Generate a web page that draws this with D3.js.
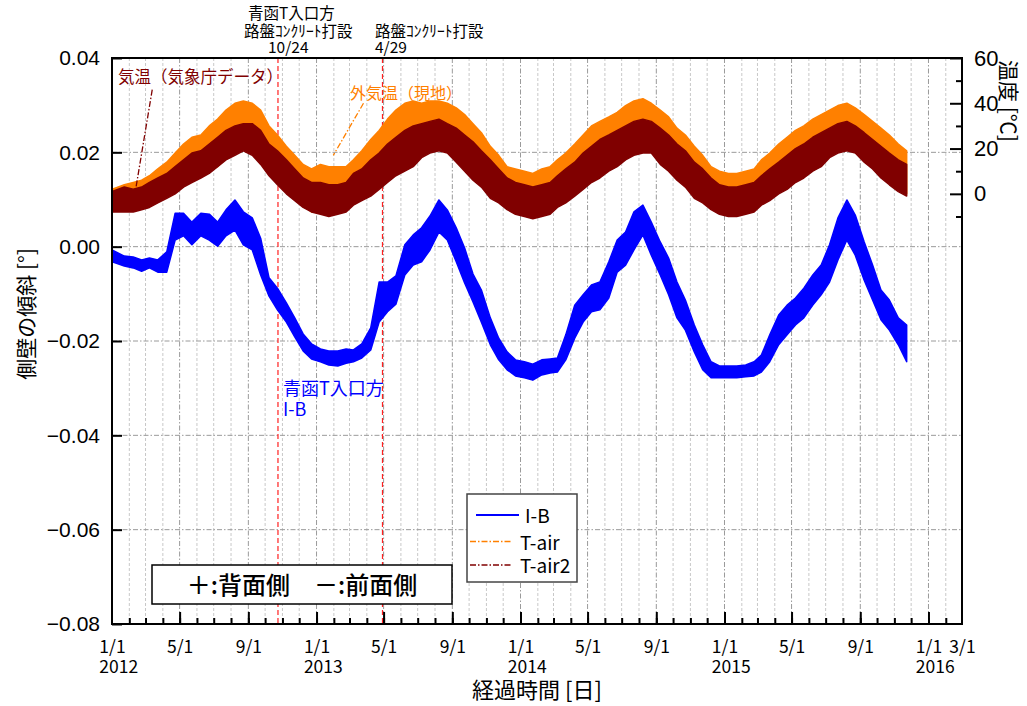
<!DOCTYPE html>
<html><head><meta charset="utf-8">
<script src="https://cdn.jsdelivr.net/npm/d3@7"></script>
<style>
html,body{margin:0;padding:0;background:#fff;}
svg{display:block;}
</style></head><body>
<svg id="chart" width="1027" height="706"></svg>
<script>
// ---------------- data ----------------
// One record per half month (the 1st and the 16th of each month, starting 2012-01-01):
// upper and lower extent of the scattered readings around the middle of that half month.
const seriesStart = Date.UTC(2012, 0, 1);

// I-B side-wall tilt [deg]
const ibHigh = [
  -0.0007,-0.0020,-0.0022,-0.0028,-0.0024,-0.0028,-0.0011,0.0071,0.0071,0.0052,0.0071,0.0069,
  0.0052,0.0078,0.0099,0.0074,0.0061,0.0018,-0.0066,-0.0088,-0.0119,-0.0151,-0.0185,-0.0206,
  -0.0217,-0.0221,-0.0221,-0.0217,-0.0219,-0.0206,-0.0172,-0.0075,-0.0075,-0.0062,0.0004,0.0025,
  0.0040,0.0065,0.0099,0.0078,0.0040,-0.0003,-0.0058,-0.0092,-0.0151,-0.0194,-0.0223,-0.0240,
  -0.0244,-0.0249,-0.0240,-0.0238,-0.0236,-0.0187,-0.0124,-0.0102,-0.0081,-0.0075,-0.0032,0.0014,
  0.0031,0.0074,0.0088,0.0052,0.0010,-0.0024,-0.0075,-0.0113,-0.0166,-0.0208,-0.0244,-0.0253,
  -0.0253,-0.0253,-0.0251,-0.0244,-0.0230,-0.0187,-0.0145,-0.0124,-0.0109,-0.0088,-0.0060,-0.0039,
  0.0004,0.0061,0.0099,0.0067,0.0010,-0.0039,-0.0092,-0.0113,-0.0151,-0.0166
];
const ibLow = [
  -0.0032,-0.0041,-0.0045,-0.0052,-0.0045,-0.0054,-0.0054,0.0014,0.0023,0.0004,0.0023,0.0014,
  0.0001,0.0023,0.0035,0.0004,-0.0007,-0.0060,-0.0105,-0.0134,-0.0160,-0.0191,-0.0221,-0.0238,
  -0.0244,-0.0251,-0.0253,-0.0247,-0.0244,-0.0236,-0.0219,-0.0160,-0.0138,-0.0122,-0.0060,-0.0039,
  -0.0032,-0.0007,0.0031,0.0014,-0.0032,-0.0077,-0.0117,-0.0160,-0.0208,-0.0240,-0.0261,-0.0274,
  -0.0278,-0.0283,-0.0272,-0.0268,-0.0266,-0.0240,-0.0194,-0.0160,-0.0138,-0.0134,-0.0109,-0.0054,
  -0.0039,-0.0007,0.0025,-0.0018,-0.0060,-0.0102,-0.0151,-0.0177,-0.0223,-0.0261,-0.0278,-0.0278,
  -0.0278,-0.0278,-0.0276,-0.0274,-0.0266,-0.0244,-0.0208,-0.0187,-0.0166,-0.0151,-0.0124,-0.0102,
  -0.0075,-0.0028,0.0014,-0.0018,-0.0071,-0.0113,-0.0155,-0.0177,-0.0208,-0.0244
];

// T-air: air temperature at the site [°C]
const tairHigh = [
  2,4,5,6,8,11,14,18,22,25,26,30,33,37,40,41,40,37,30,26,21,17,13,11,
  13,12,12,12,15,19,24,28,33,37,40,41,40,41,41,40,38,35,31,27,21,17,12,11,
  10,9,11,12,15,18,22,26,30,32,34,36,39,41,42,40,37,34,29,26,21,17,12,10,
  9,9,10,11,15,18,22,25,28,30,33,35,37,39,40,38,35,32,29,26,22,19
];
const tairLow = [
  -6,-7,-6,-5,-4,-2,-1,2,4,6,8,10,12,16,18,20,18,14,9,5,1,-2,-5,-8,
  -8,-9,-8,-7,-4,-2,0,3,7,9,11,13,17,19,20,19,15,11,7,4,-1,-3,-6,-8,
  -9,-10,-9,-8,-5,-3,0,3,6,8,11,13,16,18,19,19,14,11,7,4,-1,-3,-6,-8,
  -9,-9,-8,-7,-4,-2,1,3,6,8,11,13,17,19,20,19,15,12,8,5,2,0
];

// T-air2: air temperature from the meteorological agency [°C]
const tair2High = [
  1,3,2,3,5,7,9,12,15,18,19,22,25,28,30,31,31,28,22,19,15,11,7,5,
  5,4,4,5,9,11,15,18,22,25,28,30,31,32,33,31,29,26,23,19,15,11,7,5,
  4,3,4,5,8,11,14,18,21,24,26,28,30,32,33,32,29,26,22,19,14,11,7,4,
  3,3,4,5,8,11,14,17,20,22,25,27,29,31,32,30,27,24,21,18,15,13
];
const tair2Low = [
  -8,-8,-8,-7,-6,-4,-2,0,3,5,7,9,12,15,17,19,17,13,8,4,0,-3,-6,-8,
  -9,-10,-9,-8,-5,-3,-1,2,5,8,10,12,16,18,19,18,14,10,6,3,-2,-4,-7,-9,
  -10,-11,-10,-9,-6,-4,-1,2,5,7,10,12,15,17,18,18,13,10,6,3,-2,-4,-7,-9,
  -10,-10,-9,-8,-5,-3,0,2,5,7,10,12,16,18,19,18,14,11,7,4,1,-1
];

const tiltTicks = [0.04, 0.02, 0.00, -0.02, -0.04, -0.06, -0.08];
const tempTicks = [60, 40, 20, 0];
const tempMinorTicks = [50, 30, 10, -10];
const labelDates = ["2012-01-01","2012-05-01","2012-09-01","2013-01-01","2013-05-01","2013-09-01",
                    "2014-01-01","2014-05-01","2014-09-01","2015-01-01","2015-05-01","2015-09-01",
                    "2016-01-01","2016-03-01"];
const eventDates = ["2012-10-24", "2013-04-29"];

// ---------------- layout ----------------
const P = {left: 112, right: 962, top: 58, bottom: 624};
const svg = d3.select("#chart");
const JP = "'Noto Sans CJK JP', sans-serif";
const LAT = "'Liberation Sans', Arial, sans-serif";

const x = d3.scaleUtc()
  .domain([new Date(seriesStart), new Date(Date.UTC(2016, 2, 1))])
  .range([P.left, P.right]);
const yTilt = d3.scaleLinear().domain([-0.08, 0.04]).range([P.bottom, P.top]);
const yTemp = d3.scaleLinear().domain([-190, 60]).range([P.bottom, P.top]);

const parse = s => new Date(s + "T00:00:00Z");

svg.append("defs").append("clipPath").attr("id", "plotClip")
  .append("rect").attr("x", P.left).attr("y", P.top)
  .attr("width", P.right - P.left).attr("height", P.bottom - P.top);

// ---------------- grid ----------------
const months = d3.utcMonth.range(d3.utcMonth.offset(x.domain()[0], 1), x.domain()[1]);
const grid = svg.append("g");
grid.selectAll("line.v").data(months).join("line")
  .attr("x1", d => x(d)).attr("x2", d => x(d))
  .attr("y1", P.top).attr("y2", P.bottom)
  .attr("stroke", d => d.getUTCMonth() % 4 === 0 ? "#9a9a9a" : "#c8c8c8")
  .attr("stroke-width", 1)
  .attr("stroke-dasharray", d => d.getUTCMonth() % 4 === 0 ? "5,2,1.5,2" : "3,2");
grid.selectAll("line.h").data(tiltTicks.slice(1, -1)).join("line")
  .attr("x1", P.left).attr("x2", P.right)
  .attr("y1", d => yTilt(d)).attr("y2", d => yTilt(d))
  .attr("stroke", "#9a9a9a").attr("stroke-width", 1)
  .attr("stroke-dasharray", "5,2,1.5,2");

// event lines
svg.append("g").selectAll("line").data(eventDates).join("line")
  .attr("x1", d => x(parse(d))).attr("x2", d => x(parse(d)))
  .attr("y1", P.top).attr("y2", P.bottom)
  .attr("stroke", "#ff2020").attr("stroke-width", 1.2)
  .attr("stroke-dasharray", "5,3");

// ---------------- traces ----------------
// record k sits in the middle of its half month (the first one at the series start)
function recordDate(k) {
  const m = d3.utcMonth.offset(new Date(seriesStart), Math.floor(k / 2));
  return k === 0 ? m : d3.utcDay.offset(m, k % 2 ? 22 : 7);
}
function bandRecords(high, low) {
  return high.map((h, k) => ({date: recordDate(k), hi: h, lo: low[k]}));
}
const traces = svg.append("g").attr("clip-path", "url(#plotClip)");
function drawBand(records, yScale, color) {
  const area = d3.area().x(d => x(d.date)).y0(d => yScale(d.lo)).y1(d => yScale(d.hi));
  traces.append("path").datum(records).attr("d", area)
    .attr("fill", color).attr("stroke", color).attr("stroke-width", 1.5)
    .attr("stroke-linejoin", "round");
}
drawBand(bandRecords(tairHigh, tairLow), yTemp, "#ff8000");
drawBand(bandRecords(tair2High, tair2Low), yTemp, "#800000");
drawBand(bandRecords(ibHigh, ibLow), yTilt, "#0000ff");

// ---------------- axes ----------------
const axL = svg.append("g").attr("transform", `translate(${P.left},0)`)
  .call(d3.axisLeft(yTilt).tickValues(tiltTicks).tickSize(-10).tickPadding(12)
    .tickFormat(d3.format(".2f")));
axL.select(".domain").remove();
axL.selectAll(".tick line").attr("stroke", "#000").attr("stroke-width", 2);
axL.selectAll("text").attr("font-family", LAT).attr("font-size", 21).attr("fill", "#000");

const axR = svg.append("g").attr("transform", `translate(${P.right},0)`)
  .call(d3.axisRight(yTemp).tickValues(tempTicks).tickSize(-12).tickPadding(12));
axR.select(".domain").remove();
axR.selectAll(".tick line").attr("stroke", "#000").attr("stroke-width", 2);
axR.selectAll("text").attr("font-family", LAT).attr("font-size", 22).attr("fill", "#000");
const axRm = svg.append("g").attr("transform", `translate(${P.right},0)`)
  .call(d3.axisRight(yTemp).tickValues(tempMinorTicks).tickSize(-6).tickFormat(""));
axRm.select(".domain").remove();
axRm.selectAll(".tick line").attr("stroke", "#000").attr("stroke-width", 2);

const axBm = svg.append("g").attr("transform", `translate(0,${P.bottom})`)
  .call(d3.axisBottom(x).tickValues(months).tickSize(-6).tickFormat(""));
axBm.select(".domain").remove();
axBm.selectAll(".tick line").attr("stroke", "#000").attr("stroke-width", 2);

const majorDates = labelDates.map(parse);
const axB = svg.append("g").attr("transform", `translate(0,${P.bottom})`)
  .call(d3.axisBottom(x).tickValues(majorDates).tickSize(-12).tickPadding(17)
    .tickFormat(d => `${d.getUTCMonth() + 1}/${d.getUTCDate()}`));
axB.select(".domain").remove();
axB.selectAll(".tick line").attr("stroke", "#000").attr("stroke-width", 2)
  .filter(d => +d === +x.domain()[0] || +d === +x.domain()[1]).remove();
axB.selectAll("text").attr("font-family", JP).attr("font-size", 17.5).attr("fill", "#000");
// year under every 1/1 label, aligned to the label's left edge
axB.selectAll(".tick").filter(d => d.getUTCMonth() === 0).each(function(d) {
  const t = d3.select(this).select("text");
  const w = t.node().getComputedTextLength();
  d3.select(this).append("text")
    .attr("x", -w / 2).attr("y", 49)
    .attr("text-anchor", "start")
    .attr("font-family", JP).attr("font-size", 17.5).attr("fill", "#000")
    .text(d.getUTCFullYear());
});

// frame
svg.append("rect").attr("x", P.left).attr("y", P.top)
  .attr("width", P.right - P.left).attr("height", P.bottom - P.top)
  .attr("fill", "none").attr("stroke", "#000").attr("stroke-width", 2);

// axis titles
svg.append("text").attr("transform", "translate(25,314) rotate(-90)")
  .attr("text-anchor", "middle").attr("dominant-baseline", "central")
  .attr("font-family", JP).attr("font-size", 21).text("側壁の傾斜 [°]");
svg.append("text").attr("transform", "translate(1001,60) rotate(90)")
  .attr("text-anchor", "start")
  .attr("font-family", JP).attr("font-size", 21).text("温度 [℃]");
svg.append("text").attr("x", 537).attr("y", 698).attr("text-anchor", "middle")
  .attr("font-family", JP).attr("font-size", 22).text("経過時間 [日]");

// ---------------- annotations ----------------
const notes = svg.append("g").attr("font-family", JP).attr("font-size", 15.5).attr("fill", "#000");
notes.append("text").attr("x", 248).attr("y", 19).text("青函T入口方");
notes.append("text").attr("x", 244).attr("y", 37).text("路盤ｺﾝｸﾘｰﾄ打設");
notes.append("text").attr("x", 268).attr("y", 53).text("10/24");
notes.append("text").attr("x", 375).attr("y", 37).text("路盤ｺﾝｸﾘｰﾄ打設");
notes.append("text").attr("x", 375).attr("y", 53).text("4/29");

// callouts for the temperature traces
const leaders = [
  {from: ["2012-03-13", 46], to: ["2012-02-10", -1.5], color: "#800000"},
  {from: ["2013-03-26", 40], to: ["2013-01-31", 17], color: "#ff8000"}
];
svg.append("g").selectAll("line").data(leaders).join("line")
  .attr("x1", d => x(parse(d.from[0]))).attr("y1", d => yTemp(d.from[1]))
  .attr("x2", d => x(parse(d.to[0]))).attr("y2", d => yTemp(d.to[1]))
  .attr("stroke", d => d.color).attr("stroke-width", 1.3)
  .attr("stroke-dasharray", "6,2,1.5,2");
svg.append("text").attr("x", 118).attr("y", 83).attr("font-family", JP).attr("font-size", 16.5)
  .attr("fill", "#800000").text("気温（気象庁データ）");
svg.append("text").attr("x", 350).attr("y", 99).attr("font-family", JP).attr("font-size", 16)
  .attr("fill", "#ff8000").text("外気温（現地）");
svg.append("text").attr("x", 283).attr("y", 395).attr("font-family", JP).attr("font-size", 18)
  .attr("fill", "#0000ff").text("青函T入口方");
svg.append("text").attr("x", 283).attr("y", 416).attr("font-family", JP).attr("font-size", 18)
  .attr("fill", "#0000ff").text("I-B");

// legend
const lg = svg.append("g");
lg.append("rect").attr("x", 467).attr("y", 494).attr("width", 110).attr("height", 88)
  .attr("fill", "#fff").attr("stroke", "#444").attr("stroke-width", 1.5);
const legendItems = [
  {label: "I-B", color: "#0000ff", dash: null, y: 515, x1: 476, x2: 519, tx: 525},
  {label: "T-air", color: "#ff8000", dash: "6,2,1.5,2", y: 541.5, x1: 470, x2: 511, tx: 520},
  {label: "T-air2", color: "#800000", dash: "6,2,1.5,2", y: 565, x1: 470, x2: 511, tx: 520}
];
legendItems.forEach(it => {
  lg.append("line").attr("x1", it.x1).attr("x2", it.x2).attr("y1", it.y).attr("y2", it.y)
    .attr("stroke", it.color).attr("stroke-width", it.dash ? 1.5 : 2)
    .attr("stroke-dasharray", it.dash);
  lg.append("text").attr("x", it.tx).attr("y", it.y + 8)
    .attr("font-family", JP).attr("font-size", 19).text(it.label);
});

// sign convention box
svg.append("rect").attr("x", 152).attr("y", 565).attr("width", 300).attr("height", 39)
  .attr("fill", "#fff").attr("stroke", "#000").attr("stroke-width", 1.5);
svg.append("text").attr("x", 302).attr("y", 594).attr("text-anchor", "middle")
  .attr("font-family", JP).attr("font-size", 24).attr("font-weight", 500)
  .attr("xml:space", "preserve")
  .text("＋:背面側　－:前面側");
</script>
</body></html>
